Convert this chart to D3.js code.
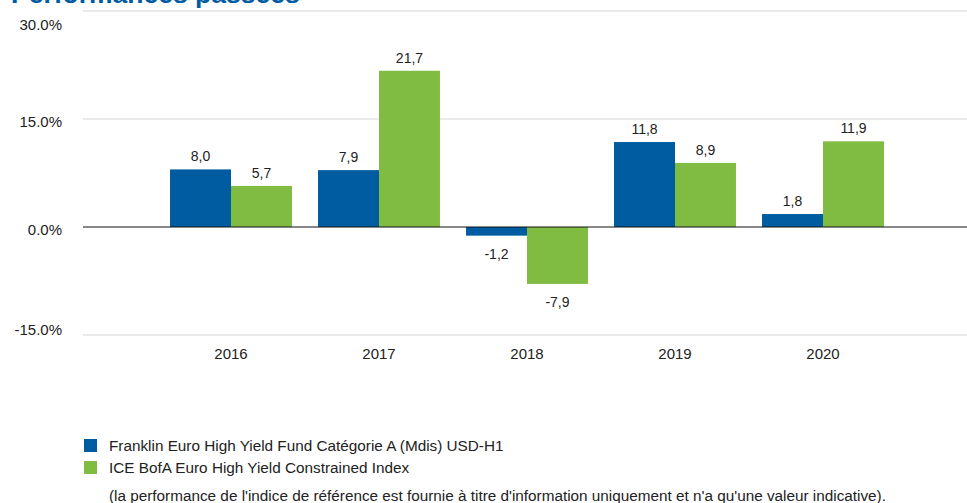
<!DOCTYPE html>
<html>
<head>
<meta charset="utf-8">
<script src="https://cdn.jsdelivr.net/npm/d3@7"></script>
<style>
  body { margin: 0; background: #fff; }
  svg { display: block; font-family: "Liberation Sans", Arial, sans-serif; }
</style>
</head>
<body>
<div id="chart"></div>
<script>
// data
const years = ["2016", "2017", "2018", "2019", "2020"];
const fundValues = [8.0, 7.9, -1.2, 11.8, 1.8];
const indexValues = [5.7, 21.7, -7.9, 8.9, 11.9];
const seriesNames = [
    "Franklin Euro High Yield Fund Catégorie A (Mdis) USD-H1",
    "ICE BofA Euro High Yield Constrained Index"
];
const seriesColors = ["#005ca1", "#80bc41"];
const yTicks = [-15, 0, 15, 30];
const footnote = "(la performance de l'indice de référence est fournie à titre d'information uniquement et n'a qu'une valeur indicative).";

const width = 967, height = 503;
const margin = {top: 11, right: -4, bottom: 168, left: 83};

const svg = d3.select("#chart").append("svg")
    .attr("width", width)
    .attr("height", height);

// title (cut off at top like the source)
svg.append("text")
    .attr("x", 11)
    .attr("y", 3)
    .attr("fill", "#005ca1")
    .attr("font-size", 26.5)
    .attr("font-weight", "bold")
    .text("Performances passées");

// scales
const x0 = d3.scaleBand()
    .domain(years)
    .range([margin.left, width - margin.right])
    .paddingInner(0)
    .paddingOuter(0.5);

const x1 = d3.scaleBand()
    .domain([0, 1])
    .range([x0.bandwidth() * 0.088, x0.bandwidth() * 0.912])
    .padding(0);

const y = d3.scaleLinear()
    .domain([-15, 30])
    .range([height - margin.bottom, margin.top]);

const fmtPct = d => d.toFixed(1) + "%";
const fmtVal = d => d.toFixed(1).replace(".", ",");

// gridlines
svg.append("g")
    .selectAll("line")
    .data(yTicks.filter(d => d !== 0))
    .join("line")
    .attr("x1", margin.left)
    .attr("x2", width)
    .attr("y1", d => y(d))
    .attr("y2", d => y(d))
    .attr("stroke", "#e3e3e3")
    .attr("stroke-width", 1.5);

// y labels (kept inside the plot band, top one pushed down)
svg.append("g")
    .selectAll("text")
    .data(yTicks)
    .join("text")
    .attr("x", 62)
    .attr("y", d => Math.min(330, Math.max(25, y(d) + 3)))
    .attr("dy", "0.35em")
    .attr("text-anchor", "end")
    .attr("font-size", 15)
    .attr("fill", "#222")
    .text(fmtPct);

// bars
const rows = years.map((yr, i) => ({year: yr, values: [fundValues[i], indexValues[i]]}));

const groups = svg.append("g")
    .selectAll("g")
    .data(rows)
    .join("g")
    .attr("transform", d => `translate(${x0(d.year)},0)`);

groups.selectAll("rect")
    .data(d => d.values.map((v, k) => ({k: k, v: v})))
    .join("rect")
    .attr("x", d => x1(d.k))
    .attr("width", x1.bandwidth())
    .attr("y", d => y(Math.max(0, d.v)))
    .attr("height", d => Math.abs(y(d.v) - y(0)))
    .attr("fill", d => seriesColors[d.k]);

// value labels
groups.selectAll("text")
    .data(d => d.values.map((v, k) => ({k: k, v: v})))
    .join("text")
    .attr("x", d => x1(d.k) + x1.bandwidth() / 2)
    .attr("y", d => d.v >= 0 ? y(d.v) - 8 : y(d.v) + 23)
    .attr("text-anchor", "middle")
    .attr("font-size", 14)
    .attr("fill", "#222")
    .text(d => fmtVal(d.v));

// zero line
svg.append("line")
    .attr("x1", margin.left)
    .attr("x2", width)
    .attr("y1", y(0))
    .attr("y2", y(0))
    .attr("stroke", "#111")
    .attr("stroke-width", 1.2);

// x axis labels
const xAxis = d3.axisBottom(x0).tickSize(0).tickPadding(0);
svg.append("g")
    .attr("transform", `translate(0,${y(-15) + 13})`)
    .call(xAxis)
    .call(g => g.select(".domain").remove())
    .selectAll("text")
    .attr("font-size", 15)
    .attr("fill", "#222")
    .attr("font-family", "Liberation Sans, Arial, sans-serif");

// legend
const legend = svg.append("g")
    .attr("transform", "translate(84,439)");

const items = legend.selectAll("g")
    .data(seriesNames)
    .join("g")
    .attr("transform", (d, i) => `translate(0,${i * 22})`);

items.append("rect")
    .attr("width", 13)
    .attr("height", 13)
    .attr("fill", (d, i) => seriesColors[i]);

items.append("text")
    .attr("x", 25)
    .attr("y", 12)
    .attr("font-size", 15.3)
    .attr("fill", "#222")
    .text(d => d);

svg.append("text")
    .attr("x", 109)
    .attr("y", 501)
    .attr("font-size", 15.3)
    .attr("fill", "#222")
    .text(footnote);
</script>
</body>
</html>
